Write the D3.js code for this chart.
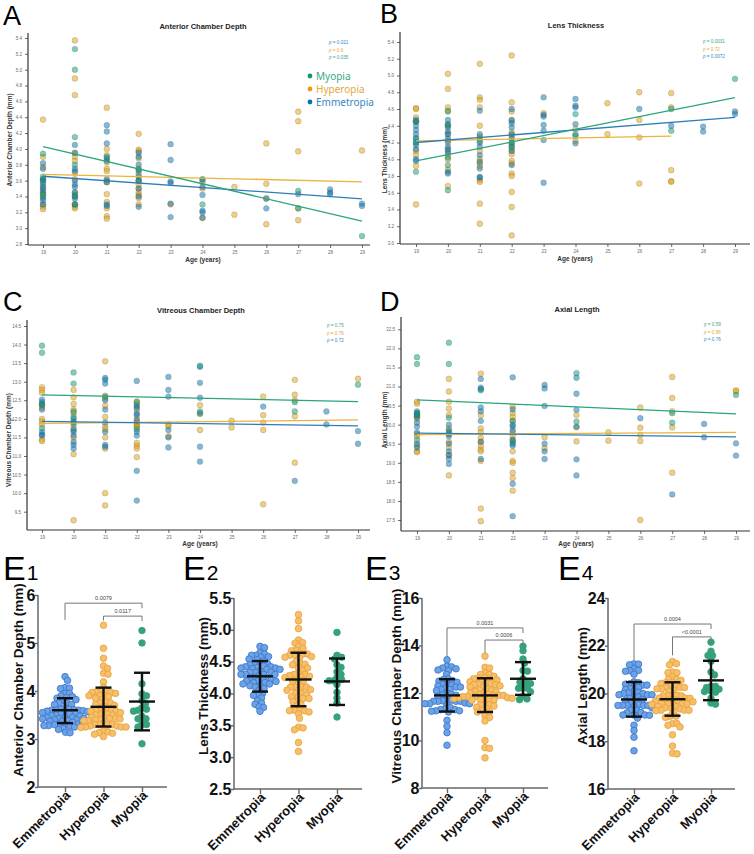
<!DOCTYPE html>
<html>
<head>
<meta charset="utf-8">
<script src="https://d3js.org/d3.v7.min.js"></script>
<style>
  html, body { margin: 0; background: #fff; }
  svg { display: block; }
  text { font-family: "Liberation Sans", Arial, sans-serif; }
</style>
</head>
<body>
<svg width="754" height="854"></svg>
<script>
const groups = ["Emmetropia", "Hyperopia", "Myopia"];
const ages = d3.range(19, 30);

// ---- Anterior chamber depth: [age, mm]
const acdEmmetropia = [[19,3.82],[19,3.75],[19,3.62],[19,3.6],[19,3.55],[19,3.52],[19,3.48],[19,3.45],[19,3.38],[19,3.35],[19,3.3],
  [20,4.05],[20,3.95],[20,3.75],[20,3.72],[20,3.6],[20,3.55],[20,3.52],[20,3.45],[20,3.4],[20,3.37],[20,3.3],
  [21,4.3],[21,4.22],[21,4.07],[21,3.88],[21,3.85],[21,3.62],[21,3.58],[21,3.3],[21,3.28],
  [22,3.95],[22,3.9],[22,3.8],[22,3.72],[22,3.65],[22,3.6],[22,3.5],[22,3.4],[22,3.27],
  [23,4.06],[23,3.86],[23,3.59],[23,3.57],[23,3.31],[23,3.14],
  [24,3.61],[24,3.52],[24,3.42],[24,3.22],[24,3.2],[24,3.13],
  [26,3.37],[26,3.25],[27,3.43],[28,3.49],[28,3.45],[28,3.43],[29,3.31],[29,3.28]];
const acdHyperopia = [[19,4.37],[19,3.9],[19,3.77],[19,3.62],[19,3.5],[19,3.43],[19,3.4],[19,3.3],[19,3.27],[19,3.24],
  [20,5.37],[20,4.89],[20,4.68],[20,3.95],[20,3.9],[20,3.85],[20,3.7],[20,3.62],[20,3.45],[20,3.4],[20,3.3],[20,3.27],[20,3.25],
  [21,4.52],[21,4.0],[21,3.92],[21,3.83],[21,3.75],[21,3.72],[21,3.6],[21,3.58],[21,3.43],[21,3.33],[21,3.25],[21,3.15],[21,3.12],
  [22,4.19],[22,3.99],[22,3.97],[22,3.88],[22,3.75],[22,3.68],[22,3.6],[22,3.55],[22,3.5],[22,3.45],[22,3.42],[22,3.38],[22,3.3],
  [23,3.3],[24,3.58],[24,3.5],[24,3.13],[25,3.52],[25,3.17],
  [26,4.07],[26,3.56],[26,3.38],[26,3.05],[27,4.47],[27,4.35],[27,3.97],[27,3.25],[27,3.1],[29,3.98]];
const acdMyopia = [[19,3.94],[19,3.65],[19,3.58],[19,3.42],[20,5.26],[20,5.0],[20,4.15],[20,3.8],[20,3.42],[20,3.3],
  [21,3.9],[22,3.74],[22,3.6],[24,3.62],[24,3.3],[27,3.47],[27,3.25],[29,2.9]];

// ---- Lens thickness
const ltEmmetropia = [[19,4.47],[19,4.45],[19,4.4],[19,4.35],[19,4.3],[19,4.25],[19,4.2],[19,4.17],[19,4.12],[19,4.0],[19,3.98],
  [20,4.47],[20,4.42],[20,4.38],[20,4.33],[20,4.3],[20,4.25],[20,4.22],[20,4.15],[20,4.12],[20,4.08],[20,3.85],[20,3.83],
  [21,4.58],[21,4.3],[21,4.2],[21,4.15],[21,4.05],[21,3.97],[21,3.89],[21,3.79],[21,3.78],
  [22,4.6],[22,4.47],[22,4.43],[22,4.38],[22,4.3],[22,4.25],[22,4.17],[22,4.1],[22,3.93],
  [23,4.74],[23,4.53],[23,4.51],[23,4.41],[23,4.34],[23,4.23],[23,3.72],
  [24,4.72],[24,4.64],[24,4.62],[24,4.42],[24,4.28],[24,4.19],
  [26,4.6],[27,4.4],[28,4.39],[28,4.33],[29,4.57],[29,4.54]];
const ltHyperopia = [[19,4.61],[19,4.6],[19,4.5],[19,4.45],[19,4.1],[19,4.05],[19,3.92],[19,3.46],
  [20,5.02],[20,4.84],[20,4.62],[20,4.58],[20,4.4],[20,4.3],[20,4.2],[20,4.1],[20,4.05],[20,4.0],[20,3.88],[20,3.68],
  [21,5.14],[21,4.74],[21,4.71],[21,4.62],[21,4.4],[21,4.27],[21,4.25],[21,4.1],[21,4.0],[21,3.95],[21,3.92],[21,3.75],[21,3.73],[21,3.47],[21,3.23],
  [22,5.24],[22,4.68],[22,4.57],[22,4.46],[22,4.32],[22,4.28],[22,4.2],[22,4.15],[22,4.1],[22,4.06],[22,3.98],[22,3.95],[22,3.83],[22,3.8],[22,3.61],[22,3.43],[22,3.09],
  [23,4.55],[24,4.36],[24,4.22],[25,4.67],[25,4.3],
  [26,4.8],[26,4.47],[26,4.26],[26,3.71],[27,4.79],[27,4.62],[27,3.87],[27,3.74],[27,3.73]];
const ltMyopia = [[19,4.45],[19,4.25],[19,4.2],[19,3.85],[20,4.57],[20,4.41],[20,4.02],[20,3.93],[20,3.63],
  [21,4.22],[22,4.2],[22,4.14],[24,4.54],[24,4.3],[27,4.6],[27,4.34],[29,4.96]];

// ---- Vitreous chamber depth
const vcdEmmetropia = [[19,12.52],[19,12.45],[19,12.38],[19,12.25],[19,11.65],[19,11.58],[19,11.55],
  [20,12.0],[20,11.92],[20,11.7],[20,11.65],[20,11.55],[20,11.38],[20,11.3],[20,11.2],
  [21,13.1],[21,13.05],[21,12.95],[21,12.5],[21,12.25],[21,11.9],[21,11.65],[21,11.3],[21,11.25],
  [22,13.02],[22,12.35],[22,12.3],[22,12.15],[22,12.1],[22,11.95],[22,11.65],[22,11.55],[22,10.6],[22,9.8],
  [23,13.13],[23,12.78],[23,12.6],[23,11.7],[23,11.5],[23,11.23],
  [24,13.4],[24,12.97],[24,12.57],[24,12.15],[24,11.25],[24,10.85],
  [26,12.33],[27,10.33],[28,12.2],[28,11.85],[29,11.67],[29,11.33]];
const vcdHyperopia = [[19,12.85],[19,12.78],[19,12.7],[19,12.35],[19,12.3],[19,12.0],[19,11.93],[19,11.85],[19,11.45],[19,11.4],
  [20,12.78],[20,12.58],[20,12.4],[20,12.25],[20,12.15],[20,11.9],[20,11.75],[20,11.5],[20,11.05],[20,9.27],
  [21,13.55],[21,12.62],[21,12.55],[21,12.35],[21,12.05],[21,11.8],[21,11.72],[21,11.5],[21,11.2],[21,10.0],[21,9.67],
  [22,12.47],[22,12.4],[22,12.25],[22,12.0],[22,11.9],[22,11.85],[22,11.8],[22,11.78],[22,11.35],[22,11.27],[22,11.2],[22,10.97],
  [23,11.85],[23,11.8],[23,11.53],[24,12.37],[24,12.13],[24,11.7],[25,11.95],[25,11.77],
  [26,12.6],[26,12.1],[26,11.9],[26,11.7],[26,9.7],[27,13.05],[27,12.65],[27,12.5],[27,12.07],[27,10.82],[29,13.08]];
const vcdMyopia = [[19,13.97],[19,13.78],[19,12.4],[19,11.75],[20,13.25],[20,12.95],[20,12.2],[20,12.05],[20,11.85],
  [21,12.6],[22,12.45],[22,11.72],[24,13.43],[24,12.2],[27,12.45],[27,12.2],[29,12.92]];

// ---- Axial length
const alEmmetropia = [[19,20.35],[19,20.3],[19,20.25],[19,20.2],[19,20.05],[19,19.95],[19,19.8],[19,19.5],[19,19.4],
  [20,20.0],[20,19.85],[20,19.75],[20,19.7],[20,19.5],[20,19.3],[20,19.2],[20,19.1],[20,18.97],
  [21,21.2],[21,20.97],[21,20.93],[21,20.45],[21,20.35],[21,20.1],[21,19.55],[21,19.1],
  [22,21.24],[22,20.4],[22,20.0],[22,19.95],[22,19.85],[22,19.6],[22,19.5],[22,19.45],[22,18.45],[22,17.6],
  [23,21.04],[23,20.95],[23,20.49],[23,19.5],[23,19.3],[23,19.1],
  [24,21.23],[24,20.81],[24,20.39],[24,19.95],[24,19.09],[24,18.67],
  [26,20.17],[27,18.17],[28,20.02],[28,19.67],[29,19.51],[29,19.19]];
const alHyperopia = [[19,20.6],[19,20.55],[19,20.2],[19,20.15],[19,19.75],[19,19.7],[19,19.45],[19,19.3],[19,19.28],
  [20,21.2],[20,20.87],[20,20.6],[20,20.42],[20,20.25],[20,19.9],[20,19.55],[20,19.4],[20,19.2],[20,18.67],
  [21,21.34],[21,20.25],[21,19.9],[21,19.8],[21,19.65],[21,19.55],[21,19.45],[21,19.35],[21,19.3],[21,19.05],[21,17.8],[21,17.47],
  [22,20.47],[22,20.3],[22,20.2],[22,20.1],[22,19.8],[22,19.7],[22,19.6],[22,19.3],[22,19.05],[22,19.0],[22,18.74],[22,18.6],[22,18.27],
  [23,19.67],[23,19.38],[24,20.25],[24,19.93],[24,19.56],[25,19.8],[25,19.58],
  [26,20.45],[26,19.92],[26,19.73],[26,19.57],[26,17.5],[27,21.25],[27,20.7],[27,20.35],[27,19.93],[27,18.74],[29,20.9],[29,20.87]];
const alMyopia = [[19,21.77],[19,21.59],[19,20.3],[19,20.25],[19,19.6],[20,22.15],[20,21.59],[20,20.18],[20,19.8],
  [21,20.9],[22,20.1],[22,19.55],[24,21.35],[24,20.08],[27,20.3],[27,20.05],[29,20.78]];

// regression lines: [group, age0, value0, age1, value1]
const fitACD = [["Hyperopia",19,3.68,29,3.585],["Emmetropia",19,3.655,29,3.37],["Myopia",19,4.03,29,3.09]];
const fitLT  = [["Hyperopia",19,4.22,27,4.275],["Emmetropia",19,4.2,29,4.5],["Myopia",19,3.98,29,4.735]];
const fitVCD = [["Hyperopia",19,11.88,29,11.97],["Emmetropia",19,11.93,29,11.81],["Myopia",19,12.645,29,12.466]];
const fitAL  = [["Hyperopia",19,19.74,29,19.8],["Emmetropia",19,19.78,29,19.68],["Myopia",19,20.65,29,20.28]];

// p values, top to bottom
const pACD = [["Emmetropia","0.021"],["Hyperopia","0.6"],["Myopia","0.035"]];
const pLT  = [["Myopia","0.0031"],["Hyperopia","0.72"],["Emmetropia","0.0072"]];
const pVCD = [["Myopia","0.75"],["Hyperopia","0.76"],["Emmetropia","0.72"]];
const pAL  = [["Myopia","0.59"],["Hyperopia","0.86"],["Emmetropia","0.76"]];

// group summaries: [group, mean, mean-SD, mean+SD]
const statsACD = [["Emmetropia",3.60,3.33,3.85],["Hyperopia",3.67,3.26,4.07],["Myopia",3.78,3.18,4.38]];
const statsLT  = [["Emmetropia",4.27,4.03,4.51],["Hyperopia",4.22,3.80,4.64],["Myopia",4.19,3.82,4.55]];
const statsVCD = [["Emmetropia",11.90,11.22,12.58],["Hyperopia",11.90,11.20,12.62],["Myopia",12.60,11.92,13.30]];
const statsAL  = [["Emmetropia",19.75,19.03,20.48],["Hyperopia",19.76,19.07,20.47],["Myopia",20.55,19.72,21.37]];

// comparisons: [from, to, label, bar level, left leg bottom]
const cmpACD = [["Emmetropia","Myopia","0.0079",5.83,5.48],["Hyperopia","Myopia","0.0117",5.56,5.47]];
const cmpVCD = [["Emmetropia","Myopia","0.0031",14.74,13.52],["Hyperopia","Myopia","0.0006",14.23,13.68]];
const cmpAL  = [["Emmetropia","Myopia","0.0004",22.91,21.4],["Hyperopia","Myopia","<0.0001",22.37,21.6]];

const svg = d3.select("svg");
const dotColor  = { Myopia: "#029e73", Hyperopia: "#e69f00", Emmetropia: "#0173b2" };
const lineColor = { Myopia: "#28a57c", Hyperopia: "#e9b43c", Emmetropia: "#2f7db8" };
const textColor = { Myopia: "#3aa884", Hyperopia: "#e3a93a", Emmetropia: "#3a86c0" };
const swarmFill   = { Emmetropia: "#6aa3e6", Hyperopia: "#f7bf66", Myopia: "#35a27a" };
const swarmStroke = { Emmetropia: "#3b72c9", Hyperopia: "#e7a040", Myopia: "#35a27a" };

function scatterPanel(c) {
  const g = svg.append("g");
  const x = d3.scaleLinear().domain([19, 29]).range(c.xRange);
  const y = d3.scaleLinear().domain(c.yDomain).range(c.yRange);

  g.append("text").attr("x", c.letter[1]).attr("y", c.letter[2])
    .attr("font-size", 27).text(c.letter[0]);
  g.append("text").attr("x", c.titleX).attr("y", c.titleY).attr("text-anchor", "middle")
    .attr("font-size", 7.5).attr("font-weight", "bold").attr("fill", "#222").text(c.title);

  // axes
  const ya = g.append("g").attr("transform", `translate(${c.axisX},0)`)
    .call(d3.axisLeft(y).tickValues(c.yTicks).tickFormat(d3.format(".1f")).tickSize(3).tickSizeOuter(0));
  ya.select(".domain").remove();
  const xa = g.append("g").attr("transform", `translate(0,${c.axisBottom})`)
    .call(d3.axisBottom(x).tickValues(ages).tickFormat(d3.format("d")).tickSize(3).tickSizeOuter(0));
  xa.select(".domain").remove();
  [ya, xa].forEach(a => {
    a.selectAll("line").attr("stroke", "#444").attr("stroke-width", 0.8);
    a.selectAll("text").attr("font-size", 4.5).attr("fill", "#666");
  });
  g.append("line").attr("x1", c.axisX).attr("x2", c.axisX).attr("y1", c.axisTop).attr("y2", c.axisBottom)
    .attr("stroke", "#333").attr("stroke-width", 1.2);
  g.append("line").attr("x1", c.axisX).attr("x2", c.xEnd).attr("y1", c.axisBottom).attr("y2", c.axisBottom)
    .attr("stroke", "#333").attr("stroke-width", 1.2);

  g.append("text").attr("transform", `translate(${c.ylabelX},${c.ylabelY}) rotate(-90)`)
    .attr("text-anchor", "middle").attr("dy", "0.35em")
    .attr("font-size", 6.5).attr("font-weight", "bold").attr("fill", "#333").text(c.ylabel);
  g.append("text").attr("x", c.ageX).attr("y", c.ageY).attr("text-anchor", "middle")
    .attr("font-size", 6.5).attr("font-weight", "bold").attr("fill", "#333").text("Age (years)");

  ["Hyperopia", "Emmetropia", "Myopia"].forEach(k => {
    g.append("g").selectAll("circle").data(c.data[k]).join("circle")
      .attr("cx", d => x(d[0])).attr("cy", d => y(d[1])).attr("r", 2.9)
      .attr("fill", dotColor[k]).attr("fill-opacity", 0.5)
      .attr("stroke", "#555").attr("stroke-opacity", 0.45).attr("stroke-width", 0.5);
  });

  g.append("g").selectAll("line").data(c.fit).join("line")
    .attr("x1", d => x(d[1])).attr("y1", d => y(d[2]))
    .attr("x2", d => x(d[3])).attr("y2", d => y(d[4]))
    .attr("stroke", d => lineColor[d[0]]).attr("stroke-width", 1.3);

  const pt = g.append("g").selectAll("text").data(c.pvals).join("text")
    .attr("x", c.pX).attr("y", (d, i) => c.pY + i * 7.7)
    .attr("font-size", 4.6).attr("fill", d => textColor[d[0]]);
  pt.append("tspan").attr("font-style", "italic").text("p");
  pt.append("tspan").text(d => " = " + d[1]);
}

scatterPanel({
  letter: ["A", 3, 25], title: "Anterior Chamber Depth", titleX: 203, titleY: 29,
  axisX: 28, xRange: [43, 362], xEnd: 370, yDomain: [2.8, 5.4], yRange: [244, 38],
  axisTop: 33, axisBottom: 245, yTicks: d3.range(14, 28).map(v => v / 5),
  ylabel: "Anterior Chamber Depth (mm)", ylabelX: 10, ylabelY: 140, ageX: 203, ageY: 262,
  pX: 329, pY: 44, pvals: pACD, fit: fitACD,
  data: { Emmetropia: acdEmmetropia, Hyperopia: acdHyperopia, Myopia: acdMyopia }
});
scatterPanel({
  letter: ["B", 380, 23], title: "Lens Thickness", titleX: 576, titleY: 28,
  axisX: 400, xRange: [416, 735], xEnd: 750, yDomain: [3.0, 5.4], yRange: [243, 42],
  axisTop: 32, axisBottom: 244, yTicks: d3.range(15, 28).map(v => v / 5),
  ylabel: "Lens Thickness (mm)", ylabelX: 385, ylabelY: 160, ageX: 575, ageY: 261,
  pX: 703, pY: 43, pvals: pLT, fit: fitLT,
  data: { Emmetropia: ltEmmetropia, Hyperopia: ltHyperopia, Myopia: ltMyopia }
});
scatterPanel({
  letter: ["C", 3, 311], title: "Vitreous Chamber Depth", titleX: 201, titleY: 313,
  axisX: 27, xRange: [42, 358], xEnd: 370, yDomain: [9.5, 14.5], yRange: [511.7, 326],
  axisTop: 320, axisBottom: 530, yTicks: d3.range(19, 30).map(v => v / 2),
  ylabel: "Vitreous Chamber Depth (mm)", ylabelX: 9, ylabelY: 440, ageX: 200, ageY: 546,
  pX: 327, pY: 327, pvals: pVCD, fit: fitVCD,
  data: { Emmetropia: vcdEmmetropia, Hyperopia: vcdHyperopia, Myopia: vcdMyopia }
});
scatterPanel({
  letter: ["D", 380, 311], title: "Axial Length", titleX: 577, titleY: 312,
  axisX: 401, xRange: [417, 736], xEnd: 750, yDomain: [17.5, 22.5], yRange: [520, 329.3],
  axisTop: 317, axisBottom: 531, yTicks: d3.range(35, 46).map(v => v / 2),
  ylabel: "Axial Length (mm)", ylabelX: 385, ylabelY: 420, ageX: 576, ageY: 546,
  pX: 704, pY: 326, pvals: pAL, fit: fitAL,
  data: { Emmetropia: alEmmetropia, Hyperopia: alHyperopia, Myopia: alMyopia }
});

// legend of panel A
const leg = svg.append("g").selectAll("g").data(["Myopia", "Hyperopia", "Emmetropia"]).join("g")
  .attr("transform", (d, i) => `translate(310,${76 + i * 13})`);
leg.append("circle").attr("r", 2.4).attr("fill", d => dotColor[d]);
leg.append("text").attr("x", 6).attr("dy", "0.35em").attr("font-size", 10)
  .style("font-family", "'Noto Sans', sans-serif").attr("fill", d => textColor[d]).text(d => d);

function swarm(vals, y, cx, r) {
  const pts = vals.map(v => ({ v, y: y(v) })).sort((a, b) => a.y - b.y);
  const placed = [];
  const dmin = 2 * r * 0.68;
  pts.forEach(p => {
    for (let k = 0; k < 400; k++) {
      const dx = (k % 2 ? 1 : -1) * Math.ceil(k / 2) * 0.5;
      if (placed.every(q => (q.x - cx - dx) ** 2 + (q.y - p.y) ** 2 >= dmin * dmin)) { p.x = cx + dx; break; }
    }
    placed.push(p);
  });
  return placed;
}

function dotPanel(c) {
  const g = svg.append("g");
  const x = d3.scalePoint().domain(groups).range(c.catRange);
  const y = d3.scaleLinear().domain(c.yDomain).range(c.yRange);
  const axisY = c.yRange[0];

  const lt = g.append("text").attr("x", c.letter[1]).attr("y", 580).attr("font-size", 34);
  lt.append("tspan").text("E");
  lt.append("tspan").attr("font-size", 21).attr("dx", 1).text(c.letter[0]);

  const ya = g.append("g").attr("transform", `translate(${c.axisX},0)`)
    .call(d3.axisLeft(y).tickValues(c.ticks).tickFormat(d3.format(c.fmt)).tickSize(3).tickSizeOuter(0));
  ya.select(".domain").remove();
  const xa = g.append("g").attr("transform", `translate(0,${axisY})`)
    .call(d3.axisBottom(x).tickSize(5).tickSizeOuter(0).tickFormat(""));
  xa.select(".domain").remove();
  [ya, xa].forEach(a => a.selectAll("line").attr("stroke", "#666").attr("stroke-width", 1.4));
  ya.selectAll("text").attr("font-size", 16).attr("font-weight", "bold").attr("fill", "#111").attr("x", -2.5);
  g.append("line").attr("x1", c.axisX).attr("x2", c.axisX).attr("y1", c.yRange[1]).attr("y2", axisY)
    .attr("stroke", "#666").attr("stroke-width", 1.5);
  g.append("line").attr("x1", c.axisX).attr("x2", c.xEnd).attr("y1", axisY).attr("y2", axisY)
    .attr("stroke", "#666").attr("stroke-width", 1.5);

  g.append("g").selectAll("text").data(groups).join("text")
    .attr("transform", d => `translate(${x(d) + 3},${axisY + 6}) rotate(-45)`)
    .attr("text-anchor", "end").attr("dy", "0.35em")
    .attr("font-size", 13).attr("font-weight", "bold").attr("fill", "#111").text(d => d);

  g.append("text").attr("transform", `translate(${c.ylabelX},${c.ylabelY}) rotate(-90)`)
    .attr("text-anchor", "middle").attr("dy", "0.35em")
    .attr("font-size", 13.5).attr("font-weight", "bold").attr("fill", "#111").text(c.ylabel);

  groups.forEach(k => {
    const pts = swarm(c.data[k].map(d => d[1]), y, x(k), 3.3);
    g.append("g").selectAll("circle").data(pts).join("circle")
      .attr("cx", d => d.x).attr("cy", d => d.y).attr("r", 3.3)
      .attr("fill", swarmFill[k]).attr("stroke", swarmStroke[k]).attr("stroke-width", 0.8);
  });

  const s = g.append("g").selectAll("g").data(c.stats).join("g")
    .attr("stroke", "#111").attr("stroke-width", 2.4);
  s.append("line").attr("x1", d => x(d[0]) - 13).attr("x2", d => x(d[0]) + 13)
    .attr("y1", d => y(d[1])).attr("y2", d => y(d[1]));
  s.append("line").attr("x1", d => x(d[0])).attr("x2", d => x(d[0]))
    .attr("y1", d => y(d[2])).attr("y2", d => y(d[3]));
  s.append("line").attr("x1", d => x(d[0]) - 8).attr("x2", d => x(d[0]) + 8)
    .attr("y1", d => y(d[2])).attr("y2", d => y(d[2]));
  s.append("line").attr("x1", d => x(d[0]) - 8).attr("x2", d => x(d[0]) + 8)
    .attr("y1", d => y(d[3])).attr("y2", d => y(d[3]));

  if (c.cmp) {
    const b = g.append("g").selectAll("g").data(c.cmp).join("g");
    b.append("path")
      .attr("d", d => `M${x(d[0])},${y(d[4])}V${y(d[3])}H${x(d[1])}V${y(d[3]) + 5}`)
      .attr("fill", "none").attr("stroke", "#777").attr("stroke-width", 1);
    b.append("text").attr("x", d => (x(d[0]) + x(d[1])) / 2).attr("y", d => y(d[3]) - 3)
      .attr("text-anchor", "middle").attr("font-size", 5.5).attr("fill", "#444").text(d => d[2]);
  }
}

dotPanel({
  letter: ["1", 3], axisX: 38, catRange: [65, 142], xEnd: 167, yDomain: [2, 6], yRange: [787, 595],
  ticks: [2, 3, 4, 5, 6], fmt: "d", ylabel: "Anterior Chamber Depth (mm)", ylabelX: 18, ylabelY: 680,
  data: { Emmetropia: acdEmmetropia, Hyperopia: acdHyperopia, Myopia: acdMyopia }, stats: statsACD, cmp: cmpACD
});
dotPanel({
  letter: ["2", 183], axisX: 234, catRange: [260, 337], xEnd: 362, yDomain: [2.5, 5.5], yRange: [789, 598],
  ticks: [2.5, 3, 3.5, 4, 4.5, 5, 5.5], fmt: ".1f", ylabel: "Lens Thickness (mm)", ylabelX: 203, ylabelY: 686,
  data: { Emmetropia: ltEmmetropia, Hyperopia: ltHyperopia, Myopia: ltMyopia }, stats: statsLT
});
dotPanel({
  letter: ["3", 365], axisX: 422, catRange: [447, 523], xEnd: 548, yDomain: [8, 16], yRange: [788, 598],
  ticks: [8, 10, 12, 14, 16], fmt: "d", ylabel: "Vitreous Chamber Depth (mm)", ylabelX: 396, ylabelY: 686,
  data: { Emmetropia: vcdEmmetropia, Hyperopia: vcdHyperopia, Myopia: vcdMyopia }, stats: statsVCD, cmp: cmpVCD
});
dotPanel({
  letter: ["4", 558], axisX: 608, catRange: [634, 711], xEnd: 735, yDomain: [16, 24], yRange: [789, 598],
  ticks: [16, 18, 20, 22, 24], fmt: "d", ylabel: "Axial Length (mm)", ylabelX: 582, ylabelY: 686,
  data: { Emmetropia: alEmmetropia, Hyperopia: alHyperopia, Myopia: alMyopia }, stats: statsAL, cmp: cmpAL
});
</script>
</body>
</html>
